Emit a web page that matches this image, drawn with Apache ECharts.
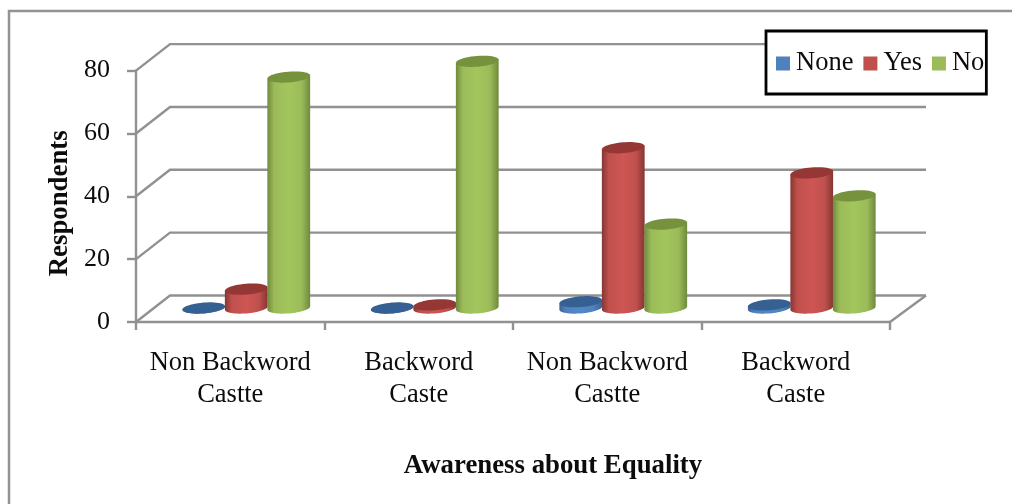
<!DOCTYPE html>
<html>
<head>
<meta charset="utf-8">
<style>html,body{margin:0;padding:0;background:#fff}#chart{width:1012px;height:504px}</style>
<script src="https://cdn.jsdelivr.net/npm/echarts@6/dist/echarts.min.js"></script>
</head>
<body>
<div id="chart"></div>
<script>
const categories = ['Non Backword\nCastte', 'Backword\nCaste', 'Non Backword\nCastte', 'Backword\nCaste'];
const noneValues = [0, 0, 2, 1];
const yesValues = [6, 1, 51, 43];
const noValues = [73.5, 78.5, 26.7, 35.7];
const tickValues = [0, 20, 40, 60, 80];

const SERIF = '"Liberation Serif", "Times New Roman", serif';
const GRID_GREY = '#919191';
const INK = '#0c0c0c';

// Oblique projection of the chart box: how far the back wall sits from the front plane
const WALL_DX = 34, WALL_DY = -26.5;
const BAR_DX = 16, BAR_DY = -14;
const TILT = 4.6 * Math.PI / 180;

const palette = [
  { legend: '#4f81bd', top: '#376092', edge: '#3b6496', mid: '#5288c8' },
  { legend: '#c0504d', top: '#953735', edge: '#853633', mid: '#ce5654' },
  { legend: '#9bbb59', top: '#76923c', edge: '#6f8a3c', mid: '#a2c65d' }
];

function ellipsePoint(cx, cy, a, b, t) {
  const ex = a * Math.cos(t), ey = b * Math.sin(t);
  return [cx + ex * Math.cos(TILT) + ey * Math.sin(TILT),
          cy - ex * Math.sin(TILT) + ey * Math.cos(TILT)];
}

function cylinderRenderer(seriesIndex) {
  const colors = palette[seriesIndex];
  return function (params, api) {
    const category = api.value(0);
    const base = api.coord([category, 0]);
    const top = api.coord([category, api.value(1)]);
    const band = api.size([1, 0])[0];
    const step = band * 0.2255;
    const a = step * 0.5 + 0.2;
    const b = 5.4;
    const cx = base[0] + BAR_DX + (seriesIndex - 1) * step;
    const baseY = base[1] + BAR_DY;
    const topY = top[1] + BAR_DY;

    // Outline of the side: lower arc of the base ellipse, closed across the top cap
    const side = [];
    for (let i = 0; i <= 32; i++) {
      side.push(ellipsePoint(cx, baseY, a, b, Math.PI - Math.PI * i / 32));
    }
    side.push(ellipsePoint(cx, topY, a, b, 0));
    side.push(ellipsePoint(cx, topY, a, b, Math.PI));

    const cap = [];
    for (let i = 0; i < 48; i++) {
      cap.push(ellipsePoint(cx, topY, a, b, 2 * Math.PI * i / 48));
    }

    return {
      type: 'group',
      children: [
        {
          type: 'polygon',
          shape: { points: side },
          style: {
            fill: {
              type: 'linear', x: 0, y: 0, x2: 1, y2: 0,
              colorStops: [
                { offset: 0, color: colors.edge },
                { offset: 0.16, color: colors.legend },
                { offset: 0.5, color: colors.mid },
                { offset: 0.8, color: colors.legend },
                { offset: 1, color: colors.edge }
              ]
            }
          }
        },
        { type: 'polygon', shape: { points: cap }, style: { fill: colors.top } }
      ]
    };
  };
}

function wallRenderer(params, api) {
  const sys = params.coordSys;
  const p = api.coord([0, api.value(1)]);
  const left = sys.x, right = sys.x + sys.width, y = p[1];
  const children = [{
    type: 'polyline',
    shape: { points: [[left, y], [left + WALL_DX, y + WALL_DY], [right + WALL_DX + 2, y + WALL_DY]] },
    style: { stroke: GRID_GREY, lineWidth: 2.4, fill: null }
  }];
  if (api.value(1) === 0) {
    children.push({
      type: 'line',
      shape: { x1: right, y1: y, x2: right + WALL_DX + 2, y2: y + WALL_DY },
      style: { stroke: GRID_GREY, lineWidth: 2.4 }
    });
  }
  return { type: 'group', children };
}

function cylinderSeries(name, values, index) {
  return {
    name,
    type: 'custom',
    renderItem: cylinderRenderer(index),
    data: values.map((v, i) => [i, v]),
    encode: { x: 0, y: 1 },
    itemStyle: { color: palette[index].legend },
    z: 5 + index
  };
}

const chart = echarts.init(document.getElementById('chart'), null, { renderer: 'canvas' });
chart.setOption({
  animation: false,
  backgroundColor: '#ffffff',
  textStyle: { fontFamily: SERIF },
  graphic: [{
    type: 'polyline',
    silent: true,
    shape: { points: [[9, 520], [9, 11], [1020, 11]] },
    style: { stroke: '#939393', lineWidth: 2.5, fill: null }
  }],
  grid: { left: 136, right: 122, top: 70.6, bottom: 182 },
  legend: {
    left: 766,
    top: 31,
    orient: 'horizontal',
    padding: [19, 2, 17, 10],
    itemGap: 10,
    itemWidth: 14,
    itemHeight: 14,
    icon: 'rect',
    backgroundColor: '#ffffff',
    borderColor: '#000000',
    borderWidth: 2.8,
    z: 20,
    data: ['None', 'Yes', 'No'],
    textStyle: { fontFamily: SERIF, fontSize: 26.5, color: INK, padding: [0, 0, 0, 1] }
  },
  xAxis: {
    type: 'category',
    data: categories,
    boundaryGap: true,
    axisLine: { lineStyle: { color: GRID_GREY, width: 2.4 } },
    axisTick: { show: true, length: 8, lineStyle: { color: GRID_GREY, width: 2.4 } },
    axisLabel: {
      interval: 0,
      margin: 25,
      fontFamily: SERIF,
      fontSize: 26.5,
      lineHeight: 32,
      color: INK
    },
    name: 'Awareness about Equality',
    nameLocation: 'middle',
    nameGap: 131,
    nameTextStyle: {
      fontFamily: SERIF,
      fontSize: 26.8,
      fontWeight: 'bold',
      color: INK,
      padding: [0, 0, 0, 80]
    }
  },
  yAxis: {
    type: 'value',
    min: 0,
    max: 80,
    interval: 20,
    splitLine: { show: false },
    axisLine: { show: true, lineStyle: { color: GRID_GREY, width: 2.4 } },
    axisTick: { show: true, length: 9, lineStyle: { color: GRID_GREY, width: 2.4 } },
    axisLabel: {
      margin: 26,
      fontFamily: SERIF,
      fontSize: 26,
      color: INK,
      formatter: v => (tickValues.includes(v) ? String(v) : '')
    },
    name: 'Respondents',
    nameLocation: 'middle',
    nameGap: 62,
    nameTextStyle: {
      fontFamily: SERIF,
      fontSize: 26.8,
      fontWeight: 'bold',
      color: INK,
      padding: [0, 14, 0, 0]
    }
  },
  series: [
    {
      name: 'walls',
      type: 'custom',
      renderItem: wallRenderer,
      data: tickValues.map(v => [0, v]),
      encode: { x: 0, y: 1 },
      z: 1,
      silent: true
    },
    cylinderSeries('None', noneValues, 0),
    cylinderSeries('Yes', yesValues, 1),
    cylinderSeries('No', noValues, 2)
  ]
});
</script>
</body>
</html>
